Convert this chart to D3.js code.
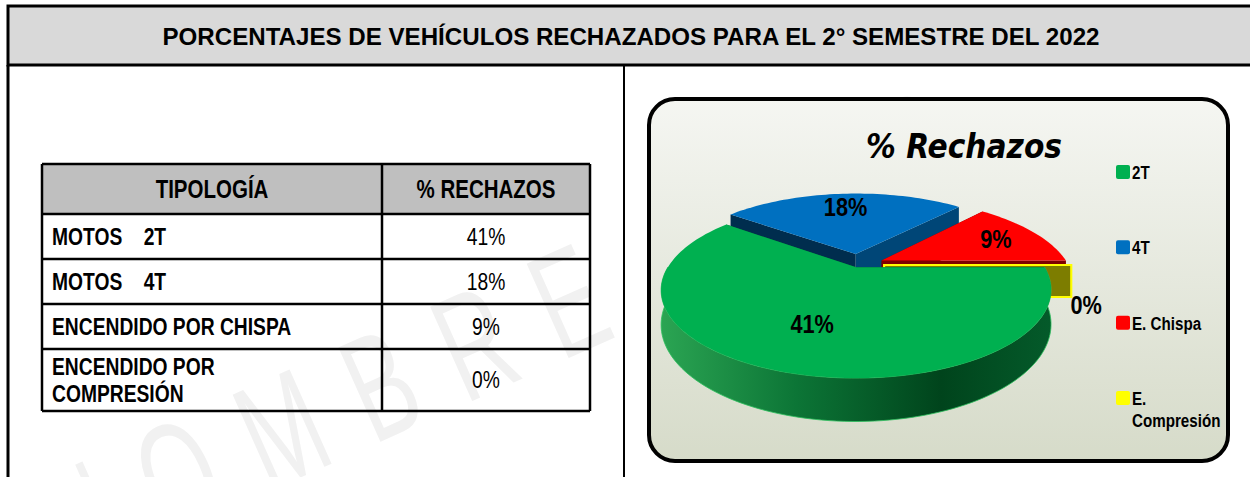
<!DOCTYPE html>
<html>
<head>
<meta charset="UTF-8">
<title>Porcentajes de vehiculos rechazados</title>
<style type="text/css">
  body { margin: 0; background: #fff; }
  text { font-family: "Liberation Sans", Arial, sans-serif; }
</style>
</head>
<body>
<script src="https://d3js.org/d3.v7.min.js"></script>
<script>
// data
var titulo = "PORCENTAJES DE VEHÍCULOS RECHAZADOS PARA EL 2° SEMESTRE DEL 2022";
var encabezados = ["TIPOLOGÍA", "% RECHAZOS"];
var tipologias = [["MOTOS    2T"], ["MOTOS    4T"], ["ENCENDIDO POR CHISPA"], ["ENCENDIDO POR", "COMPRESIÓN"]];
var leyenda = [["2T"], ["4T"], ["E. Chispa"], ["E.", "Compresión"]];
var rechazos = [41, 18, 9, 0];
var colores = ["#00b050", "#0070c0", "#ff0000", "#ffff00"];
var tituloGrafico = "% Rechazos";

var W = 1250, H = 477;
var NARROW = 0.82; // Arial Narrow look

var svg = d3.select("body").append("svg")
    .attr("width", W)
    .attr("height", H);

var defs = svg.append("defs");

// text squeezed horizontally around its anchor point
function narrow(parent, x, y, size, weight, anchor) {
  return parent.append("g")
      .attr("transform", "translate(" + x + "," + y + ") scale(" + NARROW + ",1)")
    .append("text")
      .attr("text-anchor", anchor || "start")
      .style("font-size", size + "px")
      .style("font-weight", weight)
      .style("white-space", "pre");
}

// faint watermark behind everything
svg.append("g")
    .attr("transform", "translate(70,580) rotate(-24) scale(0.62,1)")
  .append("text")
    .style("font-size", "150px")
    .style("letter-spacing", "62px")
    .style("fill", "#f1f1f1")
    .text("NOMBRE POR");

// ---- header band ----
svg.append("rect")
    .attr("x", 8).attr("y", 6)
    .attr("width", W).attr("height", 59)
    .style("fill", "#d9d9d9")
    .style("stroke", "#000").style("stroke-width", 3);

svg.append("text")
    .attr("x", 631).attr("y", 45)
    .attr("text-anchor", "middle")
    .attr("textLength", 937)
    .attr("lengthAdjust", "spacingAndGlyphs")
    .style("font-size", "24px")
    .style("font-weight", "bold")
    .text(titulo);

svg.append("line").attr("x1", 8).attr("x2", 8).attr("y1", 65).attr("y2", H)
    .style("stroke", "#000").style("stroke-width", 3);
svg.append("line").attr("x1", 624).attr("x2", 624).attr("y1", 65).attr("y2", H)
    .style("stroke", "#000").style("stroke-width", 2);

// ---- table ----
var tabla = svg.append("g");
var colX = [42, 382, 590];
var rowY = [164, 214, 259, 304, 349, 411];

tabla.append("rect")
    .attr("x", colX[0]).attr("y", rowY[0])
    .attr("width", colX[2] - colX[0]).attr("height", rowY[1] - rowY[0])
    .style("fill", "#bfbfbf");

encabezados.forEach(function(h, i) {
  narrow(tabla, (colX[i] + colX[i + 1]) / 2, (rowY[0] + rowY[1]) / 2 + 9, 25, "bold", "middle")
      .text(h);
});

tipologias.forEach(function(lines, i) {
  var yc = (rowY[i + 1] + rowY[i + 2]) / 2;
  lines.forEach(function(l, j) {
    narrow(tabla, 52, yc + 8 + (j - (lines.length - 1) / 2) * 27, 23.5, "bold")
        .text(l);
  });
  narrow(tabla, (colX[1] + colX[2]) / 2, yc + 8, 23.5, "normal", "middle")
      .text(rechazos[i] + "%");
});

rowY.forEach(function(y) {
  tabla.append("line").attr("x1", colX[0]).attr("x2", colX[2]).attr("y1", y).attr("y2", y)
      .style("stroke", "#000").style("stroke-width", 2.5);
});
colX.forEach(function(x) {
  tabla.append("line").attr("x1", x).attr("x2", x).attr("y1", rowY[0]).attr("y2", rowY[rowY.length - 1])
      .style("stroke", "#000").style("stroke-width", 2.5);
});

// ---- chart box ----
var bg = defs.append("linearGradient").attr("id", "fondo")
    .attr("x1", 0).attr("y1", 0).attr("x2", 0).attr("y2", 1);
bg.append("stop").attr("offset", 0).attr("stop-color", "#f5f6f2");
bg.append("stop").attr("offset", 1).attr("stop-color", "#d6dbc9");

svg.append("rect")
    .attr("x", 649).attr("y", 99)
    .attr("width", 579).attr("height", 362)
    .attr("rx", 26)
    .style("fill", "url(#fondo)")
    .style("stroke", "#000").style("stroke-width", 4);

svg.append("text")
    .attr("x", 964).attr("y", 158)
    .attr("text-anchor", "middle")
    .attr("textLength", 196)
    .attr("lengthAdjust", "spacingAndGlyphs")
    .style("font-family", "'DejaVu Sans', sans-serif")
    .style("font-style", "italic")
    .style("font-weight", "bold")
    .style("font-size", "33px")
    .text(tituloGrafico);

// ---- 3D pie ----
var cx = 858, cy = 265, RX = 187, RY = 81, K = 0.256, DEPTH = 32;
var explode = [0.03, 0.14, 0.14, 0.14];

var color = d3.scaleOrdinal().domain(d3.range(rechazos.length)).range(colores);
var pie = d3.pie().sort(null).startAngle(Math.PI / 2).endAngle(Math.PI / 2 + 2 * Math.PI);
var arcs = pie(rechazos);
arcs.forEach(function(a, i) {
  a.i = i;
  a.mid = (a.startAngle + a.endAngle) / 2;
  a.e = explode[i];
});

// project a point of the pie (angle t, radius r, height z 0=top 1=bottom)
function proj(a, t, r, z) {
  var ux = r * Math.sin(t) + a.e * Math.sin(a.mid);
  var uy = -(r * Math.cos(t) + a.e * Math.cos(a.mid));
  var p = 1 / (1 - K * uy);
  return [cx + ux * RX * p, cy + uy * RY * p + z * DEPTH * p];
}

function arcPts(a, t0, t1, z) {
  var n = Math.max(2, Math.ceil(Math.abs(t1 - t0) / 0.03));
  return d3.range(n + 1).map(function(k) { return proj(a, t0 + (t1 - t0) * k / n, 1, z); });
}

var line = d3.line().curve(d3.curveLinearClosed);

var gWall = defs.append("linearGradient").attr("id", "paredVerde")
    .attr("gradientUnits", "userSpaceOnUse")
    .attr("x1", 660).attr("y1", 0).attr("x2", 1050).attr("y2", 0);
gWall.append("stop").attr("offset", 0).attr("stop-color", "#2ba553");
gWall.append("stop").attr("offset", 0.35).attr("stop-color", "#0c7536");
gWall.append("stop").attr("offset", 0.72).attr("stop-color", "#00441c");
gWall.append("stop").attr("offset", 1).attr("stop-color", "#045a2a");

var gPie = svg.append("g");
var order = [1, 2, 3, 0];

order.forEach(function(i) {
  var a = arcs[i];
  var base = d3.color(color(i));

  // radial walls (start and end)
  [[a.startAngle, a.startAngle - Math.PI / 2], [a.endAngle, a.endAngle + Math.PI / 2]].forEach(function(w) {
    var pts = [proj(a, w[0], 0, 0), proj(a, w[0], 1, 0), proj(a, w[0], 1, 1), proj(a, w[0], 0, 1)];
    var shade = base.darker(2.0 - 0.9 * Math.sin(w[1]));
    gPie.append("path")
        .attr("d", line(pts))
        .style("fill", shade)
        .style("stroke", a.value === 0 ? base : "none")
        .style("stroke-width", 2);
  });

  // outer wall, only the part that faces the viewer
  var t0 = Math.max(a.startAngle, Math.PI / 2), t1 = Math.min(a.endAngle, 3 * Math.PI / 2);
  if (t1 > t0) {
    var pts = arcPts(a, t0, t1, 0).concat(arcPts(a, t1, t0, 1));
    gPie.append("path")
        .attr("d", line(pts))
        .style("fill", "url(#paredVerde)")
        .style("stroke", "#2bbf5c")
        .style("stroke-width", 0.8);
  }

  // top face
  if (a.value > 0) {
    var top = [proj(a, 0, 0, 0)].concat(arcPts(a, a.startAngle, a.endAngle, 0));
    gPie.append("path")
        .attr("d", line(top))
        .style("fill", base);
  }
});

// data labels
arcs.forEach(function(a) {
  var pos;
  if (a.value === 0) {
    pos = proj(a, a.mid, 1.08, 0);
    pos = [pos[0], pos[1] + 49];
  } else {
    pos = proj(a, a.mid, a.i === 0 ? 0.62 : 0.74, 0);
    pos[1] += 9;
  }
  narrow(gPie, pos[0], pos[1], 26.5, "bold", "middle")
      .text(a.value + "%");
});

// legend
var ly = d3.scalePoint().domain(d3.range(leyenda.length)).range([172, 398]);
var gLeg = svg.append("g");
leyenda.forEach(function(lines, i) {
  gLeg.append("rect")
      .attr("x", 1116).attr("y", ly(i) - 7)
      .attr("width", 14).attr("height", 14)
      .attr("rx", 2)
      .style("fill", color(i));
  lines.forEach(function(l, j) {
    narrow(gLeg, 1132, ly(i) + 7 + j * 22, 18.5, "bold")
        .text(l);
  });
});
</script>
</body>
</html>
